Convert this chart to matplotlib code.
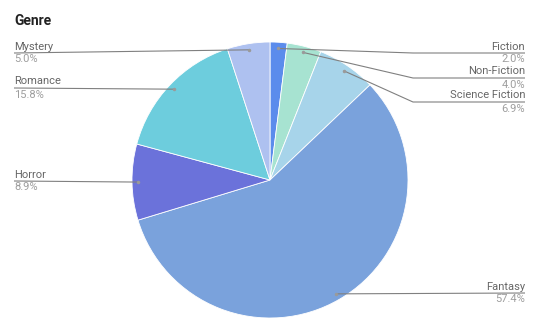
import numpy as np
import matplotlib.pyplot as plt

genres = ["Fiction", "Non-Fiction", "Science Fiction", "Fantasy", "Horror", "Romance", "Mystery"]
shares = [2.0, 4.0, 6.9, 57.4, 8.9, 15.8, 5.0]
colors = ["#5b8cec", "#a7e3d1", "#a7d4ea", "#7aa2dc", "#6b72da", "#6dcddd", "#aec1f0"]

# label layout (pixel rows of the label rule, side)
label_y = {"Fiction": 53, "Non-Fiction": 78, "Science Fiction": 102, "Fantasy": 293,
           "Horror": 181, "Romance": 88, "Mystery": 53}

W, H = 540, 332
cx, cy, R = 270, 180, 138

fig = plt.figure(figsize=(W / 100, H / 100), dpi=100)
ax = fig.add_axes([0, 0, 1, 1])
ax.set_xlim(0, W)
ax.set_ylim(0, H)
ax.set_aspect("equal")
ax.axis("off")

ax.pie(shares, colors=colors, startangle=90, counterclock=False,
       center=(cx, H - cy), radius=R, frame=True,
       wedgeprops=dict(linewidth=0.6, edgecolor="white"))
ax.set_xlim(0, W)
ax.set_ylim(0, H)
ax.axis("off")

font = "Roboto"
ax.text(14, H - 21, "Genre", fontsize=10, fontweight="bold", color="#222222",
        family=font, va="center", ha="left")

cum = np.cumsum([0] + shares[:-1])
for name, val, c0 in zip(genres, shares, cum):
    mid = np.deg2rad(90 - (c0 + val / 2) * 3.6)
    px = cx + 0.955 * R * np.cos(mid)
    py = cy - 0.955 * R * np.sin(mid)
    ly = label_y[name]
    if px >= cx:
        if name == "Fantasy":
            xs, ys = [px, 525], [py, ly]
        else:
            xs, ys = [px, 413, 525], [py, ly, ly]
        tx, ha = 525, "right"
    else:
        xs, ys = [14, px], [ly, py]
        tx, ha = 14, "left"
    ax.plot(xs, [H - y for y in ys], color="#808080", lw=0.8, solid_capstyle="butt")
    ax.plot(px, H - py, "o", ms=1.5, color="#9a9a9a")
    ax.text(tx, H - ly + 1.5, name, fontsize=8, color="#666666", family=font,
            ha=ha, va="bottom")
    ax.text(tx, H - ly - 1.5, f"{val:.1f}%", fontsize=8, color="#9e9e9e", family=font,
            ha=ha, va="top")

fig.savefig("out.png", dpi=100, facecolor="white")
